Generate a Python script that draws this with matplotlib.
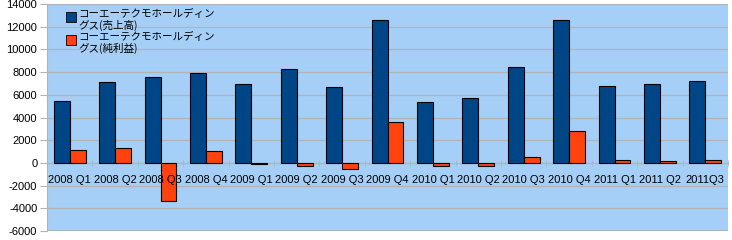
import matplotlib
matplotlib.use('Agg')
import matplotlib.pyplot as plt
from matplotlib.patches import Rectangle
import numpy as np

plt.rcParams['font.family'] = ['Liberation Sans', 'Noto Sans CJK JP', 'DejaVu Sans']
plt.rcParams['axes.unicode_minus'] = False

# データ（単位：百万円）
quarters = ['2008 Q1', '2008 Q2', '2008 Q3', '2008 Q4',
            '2009 Q1', '2009 Q2', '2009 Q3', '2009 Q4',
            '2010 Q1', '2010 Q2', '2010 Q3', '2010 Q4',
            '2011 Q1', '2011 Q2', '2011Q3']
sales = [5450, 7150, 7580, 7930, 6960, 8280, 6700, 12600,
         5370, 5730, 8460, 12600, 6780, 6960, 7220]
profit = [1150, 1320, -3380, 1060, -100, -250, -530, 3600,
          -300, -250, 530, 2800, 250, 150, 250]
series_names = ['コーエーテクモホールディン\nグス(売上高)',
                'コーエーテクモホールディン\nグス(純利益)']
series_colors = ['#004586', '#ff420e']

fig = plt.figure(figsize=(7.32, 2.40), dpi=100)
ax = fig.add_axes([47 / 732, 9 / 240, 681 / 732, 227 / 240])
ax.set_facecolor('#a6cff7')

x = np.arange(len(quarters))
w = 0.35
ax.bar(x - w / 2, sales, w, color=series_colors[0], edgecolor='black', linewidth=0.8, zorder=3)
ax.bar(x + w / 2, profit, w, color=series_colors[1], edgecolor='black', linewidth=0.8, zorder=3)

ax.set_xlim(-0.5, len(quarters) - 0.5)
ax.set_ylim(-6000, 14000)
ax.set_yticks(np.arange(-6000, 14001, 2000))
ax.tick_params(axis='y', length=5, width=0.8, color='#b3b3b3', pad=2, labelsize=8)
ax.grid(True, axis='y', color='#b3b3b3', linewidth=0.9, zorder=1)

# x軸はゼロの位置
for s in ['top', 'right']:
    ax.spines[s].set_visible(False)
ax.spines['left'].set_color('#b3b3b3')
ax.spines['bottom'].set_position(('data', 0))
ax.spines['bottom'].set_color('#b3b3b3')
ax.axhline(-6000, color='#b3b3b3', linewidth=1.2, zorder=2)
ax.set_xticks(x)
ax.set_xticklabels([])
ax.set_xticks(np.arange(-0.5, len(quarters), 1), minor=True)
ax.tick_params(axis='x', which='major', length=0)
ax.tick_params(axis='x', which='minor', length=4, direction='inout', color='#b3b3b3')
for xi, q in zip(x, quarters):
    ax.text(xi, -1500, q, ha='center', va='center', fontsize=8, zorder=5)

# 凡例
for i, (name, c) in enumerate(zip(series_names, series_colors)):
    y0 = 1 - (8 + 23 * i) / 227
    ax.add_patch(Rectangle((19 / 681, y0 - 10 / 227), 10 / 681, 10 / 227,
                           transform=ax.transAxes, facecolor=c, edgecolor='black',
                           linewidth=0.6, zorder=6))
    ax.text(31 / 681, y0 + 3 / 227, name, transform=ax.transAxes, va='top', ha='left',
            fontsize=7.6, family='Noto Sans CJK JP', linespacing=1.05, zorder=6)

fig.savefig('out.png', dpi=100)
